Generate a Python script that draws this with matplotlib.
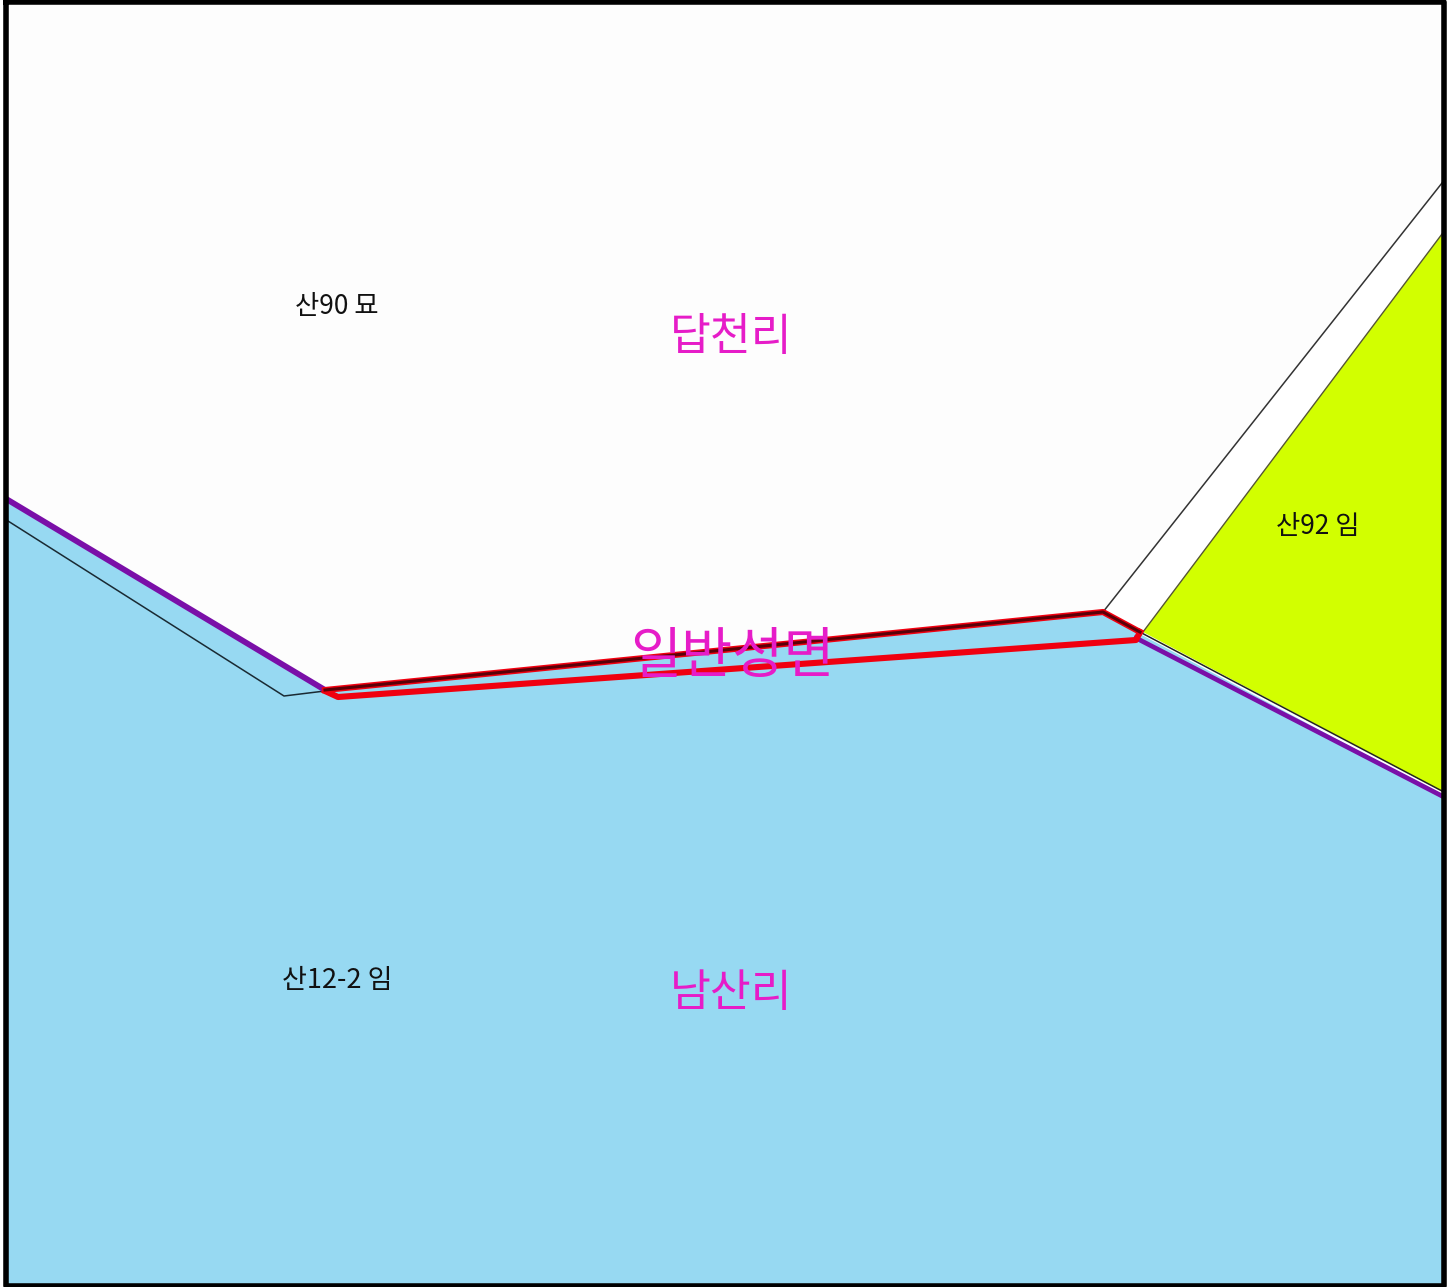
import matplotlib
matplotlib.use('agg')
import matplotlib.pyplot as plt

plt.rcParams['font.family'] = ['Noto Sans CJK KR', 'DejaVu Sans']

# parcel outlines in image pixels
upper_x = [6, 1443, 1443, 1103, 325, 6]
upper_y = [2, 2, 182, 612, 690, 498]
sea_x = [6, 325, 1103, 1140, 1443, 1443, 6]
sea_y = [498, 690, 612, 634, 796, 1285, 1285]
green_x = [1143, 1443, 1443]
green_y = [632, 233, 792]

purple_left_x = [8, 325]
purple_left_y = [500, 690]
purple_right_x = [1136, 1442]
purple_right_y = [638, 796]
thin_left_x = [8, 284, 325]
thin_left_y = [521, 696, 691]
thin_up_x = [1103, 1442]
thin_up_y = [612, 183]
thin_green_x = [1143, 1442]
thin_green_y = [632, 234]
thin_right_x = [1136, 1442]
thin_right_y = [630, 791]
dark_x = [325, 1103, 1140]
dark_y = [690, 612, 632]
red_x = [325, 338, 1136, 1140]
red_y = [691, 697, 640, 632]

big_labels = ['답천리', '남산리', '일반성면']
big_x = [731, 731, 732]
big_y = [337, 993, 657]
big_size = [32, 32, 40]
small_labels = ['산90 묘', '산92 임', '산12-2 임']
small_x = [337, 1318, 337]
small_y = [306, 527, 981]
small_size = [19, 19, 19.5]

fig = plt.figure(figsize=(14.56, 12.87), dpi=100)
ax = fig.add_axes([0, 0, 1, 1])
ax.set_xlim(0, 1456)
ax.set_ylim(1287, 0)
ax.axis('off')

ax.fill(upper_x, upper_y, color='#fdfdfd', lw=0, zorder=1)
ax.fill(sea_x, sea_y, color='#97d9f2', lw=0, zorder=1)
ax.fill(green_x, green_y, color='#d2ff00', lw=0, zorder=1)

ax.plot(thin_left_x, thin_left_y, color='#1a2a33', lw=1.1, zorder=2)
ax.plot(thin_up_x, thin_up_y, color='#333333', lw=1.1, zorder=2)
ax.plot(thin_green_x, thin_green_y, color='#555533', lw=1.0, zorder=2)
ax.plot(purple_left_x, purple_left_y, color='#7a0fa8', lw=4.2, zorder=3)
ax.plot(purple_right_x, purple_right_y, color='#7a0fa8', lw=3.4, zorder=3)
ax.plot(thin_right_x, thin_right_y, color='#222222', lw=1.1, zorder=3)
ax.plot(red_x, red_y, color='#f00010', lw=4.4, zorder=4)
ax.plot(dark_x, dark_y, color='#f00010', lw=4.4, zorder=4)
ax.plot(dark_x, dark_y, color='#5a0008', lw=2.2, zorder=5)

for t, x, y, s in zip(big_labels, big_x, big_y, big_size):
    ax.text(x, y, t, color='#e61cc8', fontsize=s, ha='center', va='center', zorder=6)
for t, x, y, s in zip(small_labels, small_x, small_y, small_size):
    ax.text(x, y, t, color='#111111', fontsize=s, ha='center', va='center', zorder=6)

# heavy black frame of the map window
ax.plot([6, 1444, 1444, 6, 6], [2, 2, 1286, 1286, 2], color='black', lw=4, zorder=7)

fig.savefig('out.png', dpi=100, facecolor='white')
